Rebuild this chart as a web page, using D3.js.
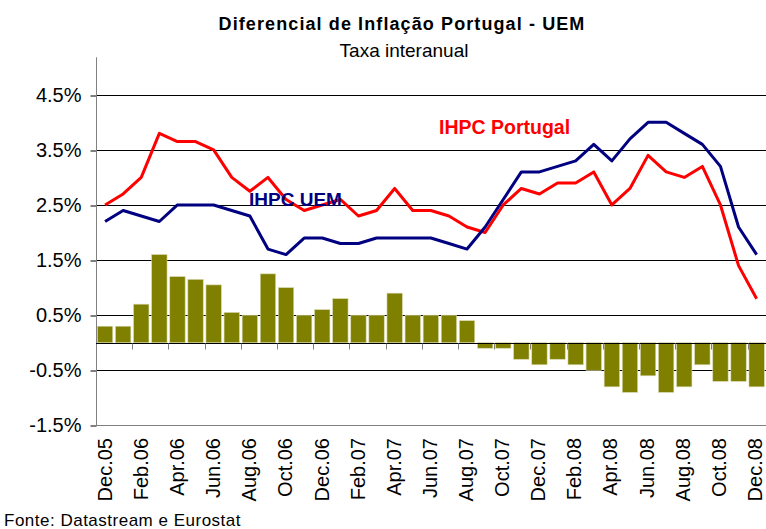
<!DOCTYPE html>
<html><head><meta charset="utf-8">
<script src="https://cdn.jsdelivr.net/npm/d3@7"></script>
<style>
body{margin:0;background:#fff}
svg{display:block}
text{font-family:"Liberation Sans",Arial,Helvetica,sans-serif}
</style>
</head><body>
<svg id="c" width="766" height="529"></svg>
<script>
const months = ["Dec.05","Jan.06","Feb.06","Mar.06","Apr.06","May.06","Jun.06","Jul.06","Aug.06","Sep.06","Oct.06","Nov.06",
  "Dec.06","Jan.07","Feb.07","Mar.07","Apr.07","May.07","Jun.07","Jul.07","Aug.07","Sep.07","Oct.07","Nov.07",
  "Dec.07","Jan.08","Feb.08","Mar.08","Apr.08","May.08","Jun.08","Jul.08","Aug.08","Sep.08","Oct.08","Nov.08","Dec.08"];
const tickLabels = ["Dec.05","Feb.06","Apr.06","Jun.06","Aug.06","Oct.06","Dec.06","Feb.07","Apr.07","Jun.07",
  "Aug.07","Oct.07","Dec.07","Feb.08","Apr.08","Jun.08","Aug.08","Oct.08","Dec.08"];
const ihpcPortugal = [2.5,2.7,3.0,3.8,3.65,3.65,3.5,3.0,2.75,3.0,2.6,2.4,2.5,2.6,2.3,2.4,2.8,2.4,2.4,2.3,2.1,2.0,2.5,2.8,2.7,2.9,2.9,3.1,2.5,2.8,3.4,3.1,3.0,3.2,2.5,1.4,0.8];
const ihpcUEM = [2.2,2.4,2.3,2.2,2.5,2.5,2.5,2.4,2.3,1.7,1.6,1.9,1.9,1.8,1.8,1.9,1.9,1.9,1.9,1.8,1.7,2.1,2.6,3.1,3.1,3.2,3.3,3.6,3.3,3.7,4.0,4.0,3.8,3.6,3.2,2.1,1.6];
const diferencial = [0.3,0.3,0.7,1.6,1.2,1.15,1.05,0.55,0.5,1.25,1.0,0.5,0.6,0.8,0.5,0.5,0.9,0.5,0.5,0.5,0.4,-0.1,-0.1,-0.3,-0.4,-0.3,-0.4,-0.5,-0.8,-0.9,-0.6,-0.9,-0.8,-0.4,-0.7,-0.7,-0.8];
const yTicks = [4.5,3.5,2.5,1.5,0.5,-0.5,-1.5];
const titleText = "Diferencial de Inflação Portugal - UEM";
const subtitleText = "Taxa interanual";
const sourceText = "Fonte: Datastream e Eurostat";
const seriesLabels = ["IHPC UEM","IHPC Portugal"];

const svg = d3.select("#c");
const L = 96, R = 765.7, T = 57.3, B = 425.4;
const x = d3.scaleBand().domain(months).range([L, R]).paddingInner(0.15).paddingOuter(0.075);
const y = d3.scaleLinear().domain([-1.5, 5.18]).range([B, T]);
const cx = d => x(d) + x.bandwidth()/2;

// title
svg.append("text").attr("x", 402).attr("y", 29.5).attr("text-anchor","middle")
  .attr("font-size", 18).attr("font-weight","bold").attr("letter-spacing","1.1px").text(titleText);
svg.append("text").attr("x", 404).attr("y", 56.5).attr("text-anchor","middle")
  .attr("font-size", 19).text(subtitleText);

// gridlines
svg.append("g").selectAll("line").data(yTicks).join("line")
  .attr("x1", L).attr("x2", 766).attr("y1", d => Math.round(y(d))+0.5).attr("y2", d => Math.round(y(d))+0.5)
  .attr("stroke", d => d === -1.5 ? "#808080" : "#000").attr("stroke-width", 1);

// y axis
const yAxis = svg.append("g").attr("transform", `translate(${L+0.5},0)`)
  .call(d3.axisLeft(y).tickValues(yTicks).tickSize(6).tickPadding(9).tickFormat(d => d.toFixed(1) + "%"));
yAxis.select(".domain").remove();
yAxis.selectAll(".tick line").attr("stroke", "#000").attr("transform", d => `translate(0,${Math.round(y(d))+0.5 - y(d)})`);
yAxis.selectAll(".tick text").attr("font-size", 20).attr("font-family", '"Liberation Sans",Arial,sans-serif').attr("fill","#000");
svg.append("line").attr("x1", L+0.5).attr("x2", L+0.5).attr("y1", T).attr("y2", B+0.5)
  .attr("stroke", "#808080").attr("stroke-width", 1);

// bars
svg.append("g").selectAll("rect").data(diferencial).join("rect")
  .attr("x", (d,i) => x(months[i]))
  .attr("width", x.bandwidth())
  .attr("y", d => Math.min(y(d), y(0)))
  .attr("height", d => Math.abs(y(d) - y(0)))
  .attr("fill", "#808000")
  .attr("stroke", "#d8d8b0").attr("stroke-width", 0.6);

// zero category axis
const y0 = Math.round(y(0)) + 0.5;
svg.append("line").attr("x1", L).attr("x2", 766).attr("y1", y0).attr("y2", y0).attr("stroke", "#000");
const tickIdx = d3.range(2, months.length + 1, 2);
svg.append("g").selectAll("line").data(tickIdx).join("line")
  .attr("x1", k => Math.round(L + k * x.step()) + 0.5).attr("x2", k => Math.round(L + k * x.step()) + 0.5)
  .attr("y1", y0).attr("y2", y0 + 6).attr("stroke", "#808080");

// lines
const line = d3.line().x((d,i) => cx(months[i])).y(d => y(d));
svg.append("path").datum(ihpcPortugal).attr("d", line).attr("fill","none")
  .attr("stroke", "#FF0000").attr("stroke-width", 3).attr("stroke-linejoin","round");
svg.append("path").datum(ihpcUEM).attr("d", line).attr("fill","none")
  .attr("stroke", "#000080").attr("stroke-width", 3).attr("stroke-linejoin","round");

// series labels
svg.append("text").attr("x", 249).attr("y", 205.5).attr("font-size", 19).attr("font-weight","bold")
  .attr("fill", "#000080").text(seriesLabels[0]);
svg.append("text").attr("x", 439).attr("y", 134).attr("font-size", 19.5).attr("font-weight","bold")
  .attr("fill", "#FF0000").text(seriesLabels[1]);

// x labels
svg.append("g").selectAll("text").data(tickLabels).join("text")
  .attr("transform", (d,i) => `translate(${cx(d) - 1.5*i/(tickLabels.length-1)},438) rotate(-90)`)
  .attr("text-anchor", "end").attr("dy", "0.34em").attr("font-size", 20).text(d => d);

// source
svg.append("text").attr("x", 4).attr("y", 526).attr("font-size", 17).attr("letter-spacing","0.5px").text(sourceText);
</script>
</body></html>
